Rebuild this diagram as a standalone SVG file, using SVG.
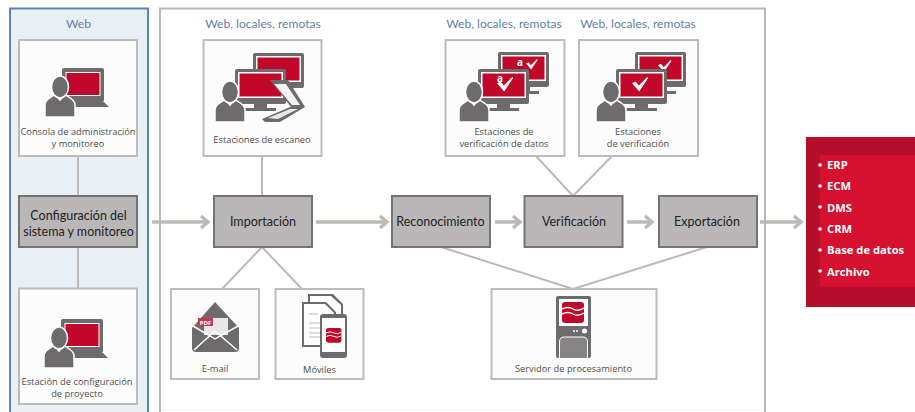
<svg xmlns="http://www.w3.org/2000/svg" xmlns:xlink="http://www.w3.org/1999/xlink" width="915" height="412" viewBox="0 0 915 412">
<style>
text{font-family:"Open Sans","Liberation Sans",sans-serif;text-anchor:middle}
.card{fill:#fcfcfc;stroke:#bfbbb8;stroke-width:2}
.step{fill:#b9b7b7;stroke:#757373;stroke-width:2}
.lbl{font-size:9.3px;fill:#4f4d4d}
.loc{font-family:Lato,"Open Sans",sans-serif;font-size:12.1px;fill:#6380a8}
.stp{font-family:Lato,"Open Sans",sans-serif;font-size:12.5px;fill:#222}
.ln{fill:none;stroke:#bdb9b6;stroke-width:2}
.ar{fill:none;stroke:#bdb9b6;stroke-width:3.4}
.d{fill:#6d6b6c}
.r{fill:#c1082a}
.w{fill:#fff}
.ext{font-size:11.2px;font-weight:700;fill:#fff;text-anchor:start}
</style>
<defs>
<g id="person">
<path d="M-15,40V28C-15,21-6,20-5,17L0,23L5,17C6,20,15,21,15,28V40Z" class="d" stroke="#fff" stroke-width="1.5"/>
<ellipse cx="0" cy="10" rx="8.5" ry="11" class="d" stroke="#fff" stroke-width="1.5"/>
</g>
<g id="laptop">
<rect x="0" y="0" width="42" height="34" rx="2" class="d"/>
<rect x="3.5" y="4" width="35" height="24" class="w"/>
<rect x="4.500" y="5" width="33" height="22" class="r"/>
<path d="M8,34H42L47,39H8Z" class="d"/>
</g>
<g id="monitor">
<rect x="0" y="0" width="51" height="35" rx="2" class="d"/>
<rect x="3" y="3" width="45" height="26" class="w"/>
<rect x="4.500" y="4.500" width="42" height="23" class="r"/>
</g>
<g id="stand"><path d="M19,35H32V39H41V42H10V39H19Z" class="d"/></g>
<path id="check" d="M0,7L4,5L7.500,9.500L17,0L18,1L8,16Z" class="w"/>
<g id="logo">
<path d="M0,3Q0,0,3,0H19Q22,0,22,3V18Q22,21,19,21H3Q0,21,0,18Z" class="r"/>
<path d="M0,7Q6,4,11,7T22,6M0,12Q6,9,11,12T22,11" fill="none" stroke="#fff" stroke-width="1.400"/>
</g>
<path id="head" d="M-7,-6L0,0L-7,6" class="ar"/>
</defs>

<rect width="915" height="412" fill="#fff"/>
<g id="panel-web"><path d="M10,412V8.500H148V412" fill="#e8f0f6" stroke="#5b83b8" stroke-width="2"/>
<text x="78.500" y="28" class="loc">Web</text></g>
<g id="panel-main"><path d="M160,412V8.500H765V412" fill="#fff" stroke="#bcb8b4" stroke-width="2"/><path d="M161,410H764" stroke="#f7f6f6" stroke-width="1.500"/>
<text x="263" y="28" class="loc">Web, locales, remotas</text>
<text x="504" y="28" class="loc">Web, locales, remotas</text>
<text x="638" y="28" class="loc">Web, locales, remotas</text></g>

<g id="connectors">
<path class="ln" d="M78,156V196M78,247V288M262,156V196M262,247L222,289M262,247L302,289M536,156L573,196M612,156L573,196M441,247L573,289L707,247"/>
<path class="ar" d="M152,222H208M316,222H387M495,222H519M627,222H652M760,222H800"/>
<use href="#head" x="208" y="222"/><use href="#head" x="387" y="222"/><use href="#head" x="520" y="222"/><use href="#head" x="652" y="222"/><use href="#head" x="801" y="222"/>
</g>

<g id="node-consola"><rect x="19" y="40" width="118" height="116" class="card"/>
<use href="#laptop" x="62" y="68"/><use href="#person" x="60" y="77"/>
<text x="78" y="135" class="lbl">Consola de administración</text><text x="78" y="147" class="lbl">y monitoreo</text></g>

<g id="node-config"><rect x="19" y="196" width="118" height="51" class="step"/>
<text x="78.500" y="220" class="stp">Configuración del</text><text x="78.500" y="236" class="stp">sistema y monitoreo</text></g>

<g id="node-estacion"><rect x="19" y="288.500" width="118" height="115.500" class="card"/>
<use href="#laptop" x="61" y="319"/><use href="#person" x="59" y="328"/>
<text x="77" y="385" class="lbl">Estación de configuración</text><text x="77" y="397" class="lbl">de proyecto</text></g>

<g id="node-escaneo"><rect x="203.500" y="40" width="118" height="116" class="card"/>
<use href="#monitor" x="253" y="53"/><use href="#monitor" x="235" y="69"/><use href="#stand" x="235" y="69"/>
<path d="M270,80H288L305,107H291Z" class="d"/><path d="M274,84H286L300,105H292Z" fill="#f4f3f3"/>
<path d="M262,119L290,107H305L280,122H265Z" class="d"/><path d="M268,118L290,109H298L278,119Z" fill="#e8e8e8"/>
<use href="#person" x="230" y="82"/>
<text x="262" y="143" class="lbl">Estaciones de escaneo</text></g>

<g id="node-importacion"><rect x="214" y="196" width="98" height="51" class="step"/>
<text x="263" y="226" class="stp">Importación</text></g>

<g id="node-email"><rect x="171" y="289" width="88" height="90" class="card"/>
<path d="M192,328L215,302L239,328V348Q239,352,235,352H196Q192,352,192,348Z" class="d"/>
<path d="M204,318H228V335H204Z" fill="#e9e8e8"/><rect x="198" y="318" width="15" height="8" fill="#c8384a"/>
<text x="205.500" y="325" font-size="6" font-weight="700" style="fill:#fff">PDF</text>
<path d="M194,350L215,331L237,350M193,326L215,339L238,326" fill="none" stroke="#fff" stroke-width="1.500"/>
<text x="215" y="372" class="lbl">E-mail</text></g>

<g id="node-moviles"><rect x="275.500" y="289" width="88" height="90" class="card"/>
<path d="M308,294H333L343,304V320H308Z" class="d"/><path d="M310,296H331L341,305V320H310Z" class="w"/>
<path d="M302,302H326L336,312V347H302Z" class="d"/><path d="M304,304H325L334,313V345H304Z" class="w"/>
<path d="M309,314H318M309,323H325M309,328H325M309,333H325M309,337H325" stroke="#bbb" fill="none"/>
<rect x="320" y="314" width="27" height="44" rx="3" class="d"/><rect x="322" y="318" width="23" height="34" class="w"/>
<use href="#logo" transform="translate(326,328) scale(0.7)"/>
<text x="319.500" y="373" class="lbl">Móviles</text></g>

<g id="node-datos"><rect x="445.500" y="40" width="119" height="116" class="card"/>
<use href="#monitor" x="498" y="52"/><use href="#stand" x="498" y="52"/>
<text x="520" y="66" font-size="10" font-weight="700" style="fill:#fff">a</text><use href="#check" transform="translate(526,59) scale(0.65)"/>
<use href="#monitor" x="478" y="69"/><use href="#stand" x="478" y="69"/>
<text x="500" y="82" font-size="10" font-weight="700" style="fill:#fff">a</text><use href="#check" transform="translate(497,77) scale(0.9)"/>
<use href="#person" x="474" y="82"/>
<text x="504" y="135" class="lbl">Estaciones de</text><text x="504" y="147" class="lbl">verificación de datos</text></g>

<g id="node-verif"><rect x="579" y="40" width="119" height="116" class="card"/>
<use href="#monitor" x="635" y="52"/><use href="#stand" x="635" y="52"/>
<use href="#check" transform="translate(658,60) scale(0.75)"/>
<use href="#monitor" x="616" y="69"/><use href="#stand" x="616" y="69"/>
<use href="#check" transform="translate(632,77) scale(0.9)"/>
<use href="#person" x="611" y="82"/>
<text x="638" y="135" class="lbl">Estaciones</text><text x="638" y="147" class="lbl">de verificación</text></g>

<g id="node-reconocimiento"><rect x="392" y="196" width="98" height="51" class="step"/>
<text x="440.500" y="226" class="stp">Reconocimiento</text></g>
<g id="node-verificacion"><rect x="524.500" y="196" width="98" height="51" class="step"/>
<text x="574" y="226" class="stp">Verificación</text></g>
<g id="node-exportacion"><rect x="659" y="196" width="98" height="51" class="step"/>
<text x="707" y="226" class="stp">Exportación</text></g>

<g id="node-servidor"><rect x="491.500" y="289" width="165" height="90" class="card"/>
<rect x="556" y="296" width="35" height="62" rx="2" class="d"/><rect x="559" y="299" width="29" height="27" class="w"/>
<use href="#logo" transform="translate(562,302)"/>
<circle cx="584.500" cy="331" r="2.500" class="w"/><path d="M573,331H578" stroke="#fff" stroke-width="1.500" stroke-dasharray="2 1"/>
<path d="M559.500,358V342Q559.500,337,564,337H583Q587.500,337,587.500,342V358" fill="#868484" stroke="#fff"/>
<text x="573.500" y="372" class="lbl">Servidor de procesamiento</text></g>

<g id="node-destinos"><rect x="806" y="137" width="109" height="170" fill="#b50e2c"/>
<rect x="820" y="155" width="95" height="132" fill="#d6102f"/>
<g fill="#fff"><circle cx="820" cy="165" r="1.800"/><circle cx="820" cy="186" r="1.800"/><circle cx="820" cy="207" r="1.800"/><circle cx="820" cy="229" r="1.800"/><circle cx="820" cy="250" r="1.800"/><circle cx="820" cy="271" r="1.800"/></g>
<text x="827" y="169" class="ext">ERP</text><text x="827" y="190" class="ext">ECM</text><text x="827" y="212" class="ext">DMS</text><text x="827" y="233" class="ext">CRM</text><text x="827" y="254" class="ext">Base de datos</text><text x="827" y="276" class="ext">Archivo</text></g>
</svg>
